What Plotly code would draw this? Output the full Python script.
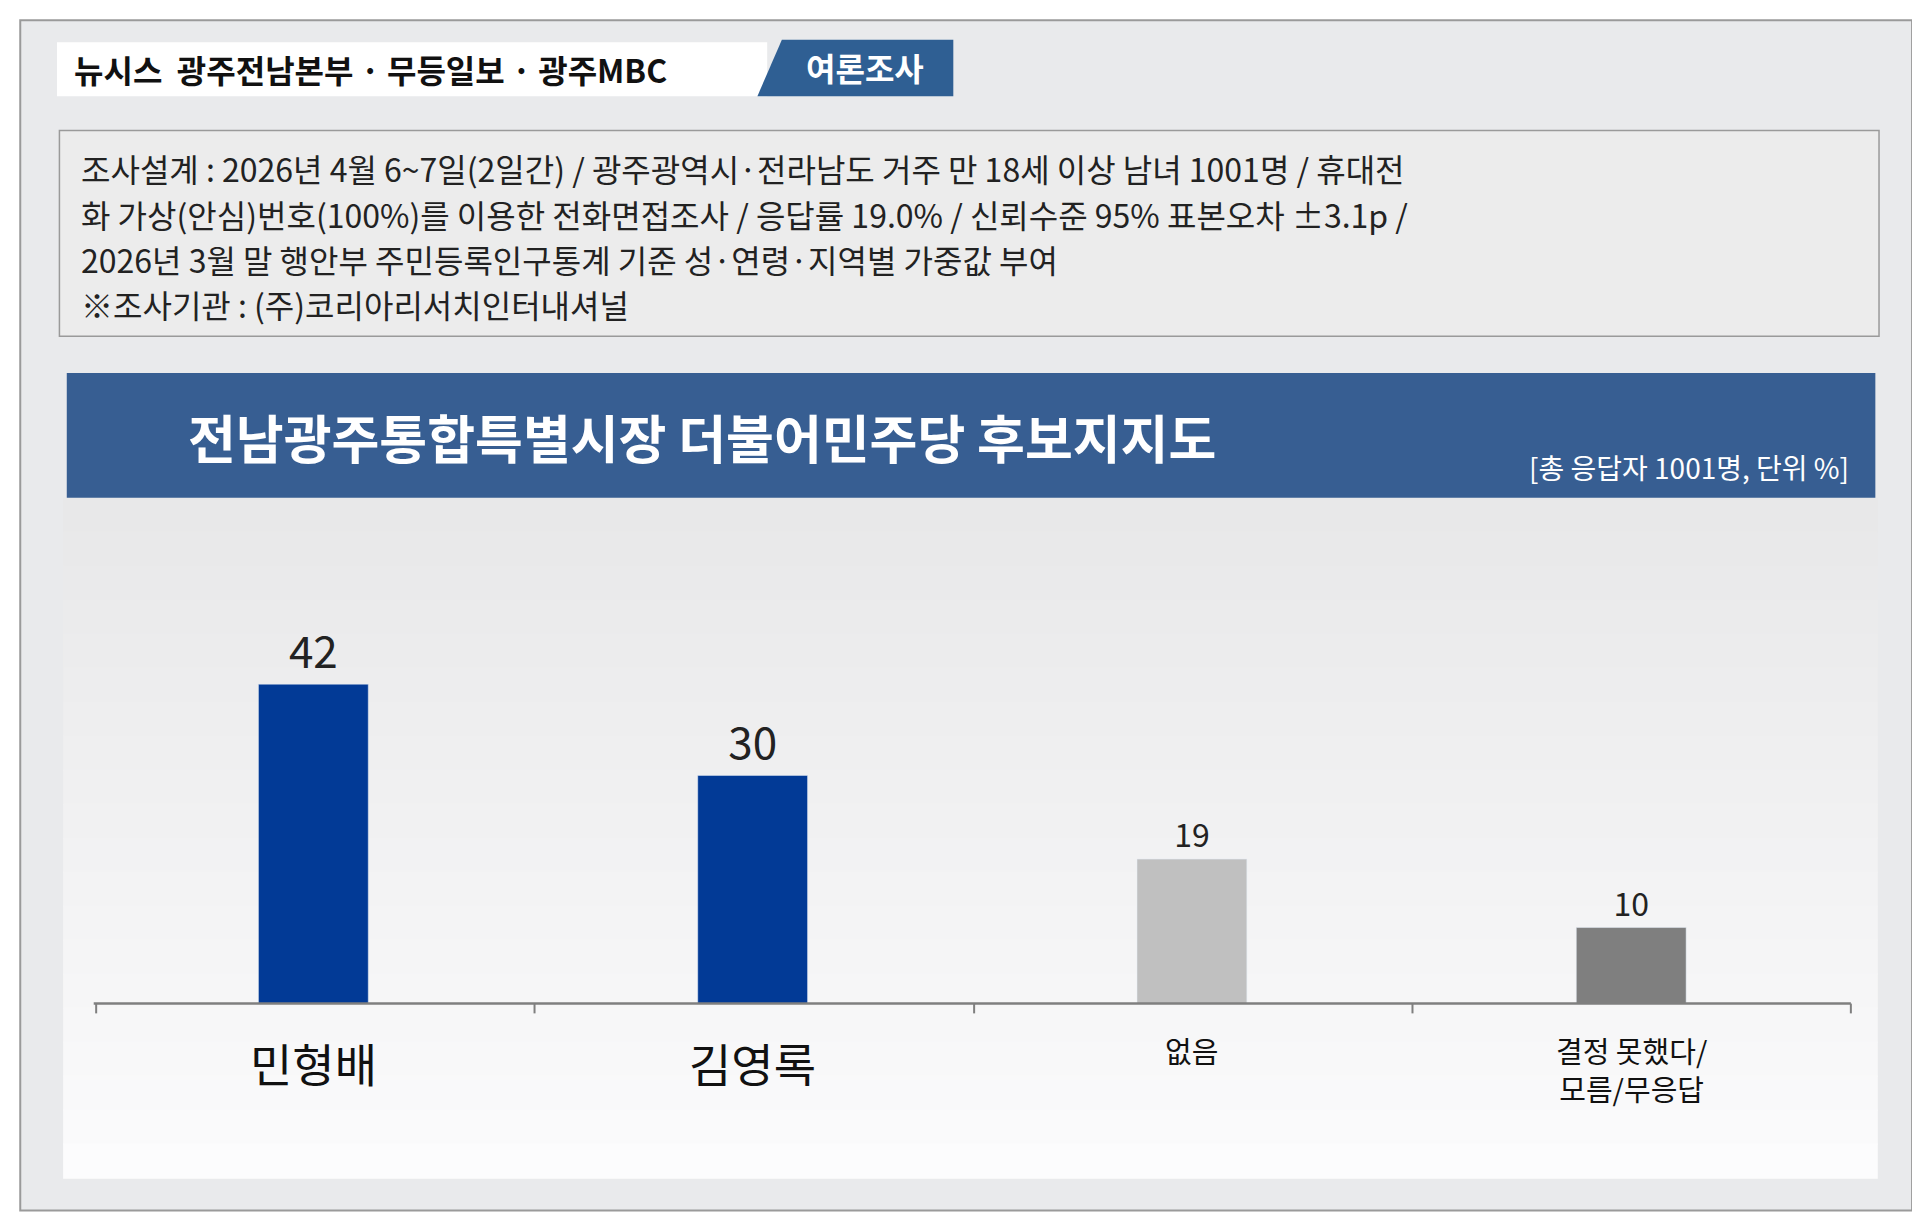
import plotly.graph_objects as go

W, H = 1920, 1216
RW, RH = 1568, 993          # reference pixel grid the layout was measured on

categories = ["민형배", "김영록", "없음", "결정 못했다/<br>모름/무응답"]
values = [42, 30, 19, 10]
bar_colors = ["#023a96", "#023a96", "#c0c0c0", "#7f7f7f"]
label_sizes = [44, 44, 32, 32]
cat_sizes = [46, 46, 29, 29]

info_lines = [
    "조사설계 : 2026년 4월 6~7일(2일간) / 광주광역시·전라남도 거주 만 18세 이상 남녀 1001명 / 휴대전",
    "화 가상(안심)번호(100%)를 이용한 전화면접조사 / 응답률 19.0% / 신뢰수준 95% 표본오차 ±3.1p /",
    "2026년 3월 말 행안부 주민등록인구통계 기준 성·연령·지역별 가중값 부여",
    "※조사기관 : (주)코리아리서치인터내셔널",
]

FONT = "Noto Sans CJK KR"


def px(x):
    return x / RW


def py(y):
    return 1 - y / RH


def rect(x0, y0, x1, y1, fill, line=None, lw=0):
    return dict(type="rect", xref="paper", yref="paper",
                x0=px(x0), x1=px(x1), y0=py(y1), y1=py(y0),
                fillcolor=fill, line=dict(color=line or fill, width=lw), layer="below")


def note(x, y, text, size, color="#222", anchor="left"):
    return dict(x=px(x), y=py(y), xref="paper", yref="paper", xanchor=anchor,
                yanchor="middle", showarrow=False, text=text,
                font=dict(size=size, color=color, family=FONT))


axis_y = 813
top_y = 420
unit = 6.21
ymax = (axis_y - top_y) / unit

fig = go.Figure()
fig.add_trace(go.Bar(
    x=categories, y=values, marker_color=bar_colors, width=0.25,
    text=[str(v) for v in values], textposition="outside", cliponaxis=False,
    textfont=dict(size=label_sizes, color="#222", family=FONT),
    hoverinfo="skip",
))

shapes = [
    rect(10, 10, 1555, 982, "#e9eaec", "#9a9a9a", 2),
    rect(40, 28, 620, 72, "#ffffff"),
    dict(type="path", xref="paper", yref="paper",
         path=f"M {px(632)},{py(26)} L {px(772)},{py(26)} L {px(772)},{py(72)} L {px(612)},{py(72)} Z",
         fillcolor="#2f5f93", line=dict(width=0), layer="below"),
    rect(42, 100, 1528, 268, "#ececec", "#9a9a9a", 1.5),
]
# soft vertical gradient in the chart panel
n = 20
for i in range(n):
    y0 = 400 + (955 - 400) * i / n
    y1 = 400 + (955 - 400) * (i + 1) / n
    g = int(232 + (252 - 232) * i / (n - 1))
    shapes.append(rect(45, y0, 1527, y1 + 1, f"rgb({g},{g},{g + 1})"))
shapes.append(rect(48, 298, 1525, 400, "#375e92"))
# axis baseline and tick marks
shapes.append(dict(type="line", xref="paper", yref="paper", x0=px(70), x1=px(1505),
                   y0=py(axis_y), y1=py(axis_y), line=dict(color="#7f7f7f", width=2.5)))
for tx in [72, 430, 789, 1147, 1505]:
    shapes.append(dict(type="line", xref="paper", yref="paper", x0=px(tx), x1=px(tx),
                       y0=py(axis_y), y1=py(axis_y + 8), line=dict(color="#7f7f7f", width=2)))

annotations = [
    note(52, 50, "<b>뉴시스  광주전남본부 · 무등일보 · 광주MBC</b>", 32, "#111"),
    note(700, 48, "<b>여론조사</b>", 32, "#fff", "center"),
    note(145, 350, "<b>전남광주통합특별시장 더불어민주당 후보지지도</b>", 52, "#fff"),
    note(1505, 375, "[총 응답자 1001명, 단위 %]", 28, "#fff", "right"),
]
for i, line in enumerate(info_lines):
    annotations.append(note(58, 131 + i * 37, line, 32))
for c, sz in zip(categories, cat_sizes):
    annotations.append(dict(x=c, xref="x", y=py(832), yref="paper", xanchor="center",
                            yanchor="top", showarrow=False, text=c,
                            font=dict(size=sz, color="#111", family=FONT)))

fig.update_layout(
    width=W, height=H, margin=dict(l=0, r=0, t=0, b=0),
    paper_bgcolor="#ffffff", plot_bgcolor="rgba(0,0,0,0)",
    showlegend=False, shapes=shapes, annotations=annotations,
    xaxis=dict(domain=[px(70), px(1505)], showticklabels=False, showgrid=False,
               zeroline=False, showline=False, fixedrange=True),
    yaxis=dict(domain=[py(axis_y), py(top_y)], range=[0, ymax], visible=False,
               showgrid=False, zeroline=False),
    font=dict(family=FONT),
)
fig.write_html("out.html")
